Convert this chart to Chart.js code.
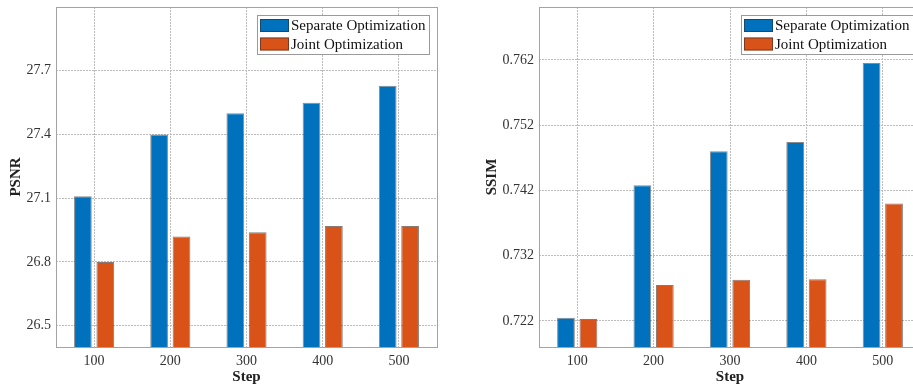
<!DOCTYPE html>
<html>
<head>
<meta charset="utf-8">
<script src="https://cdn.jsdelivr.net/npm/chart.js@4.4.1/dist/chart.umd.min.js"></script>
<style>
  html, body { margin: 0; padding: 0; background: #fff; }
  #wrap { position: relative; width: 913px; height: 386px; overflow: hidden; background: #fff; }
  #psnrCanvas { position: absolute; left: 0; top: 0; }
  #ssimCanvas { position: absolute; left: 460px; top: 0; }
</style>
</head>
<body>
<div id="wrap">
  <canvas id="psnrCanvas" width="460" height="386"></canvas>
  <canvas id="ssimCanvas" width="484" height="386"></canvas>
</div>
<script>
// Training steps on the x axis
const steps = ['100', '200', '300', '400', '500'];
const seriesNames = ['Separate Optimization', 'Joint Optimization'];

// PSNR per step
const psnrSeparate = [27.11, 27.40, 27.50, 27.55, 27.63];
const psnrJoint = [26.80, 26.92, 26.94, 26.97, 26.97];
const psnrTicks = [26.5, 26.8, 27.1, 27.4, 27.7];

// SSIM per step
const ssimSeparate = [0.7225, 0.7428, 0.7480, 0.7494, 0.7615];
const ssimJoint = [0.7223, 0.7275, 0.7283, 0.7284, 0.7400];
const ssimTicks = [0.722, 0.732, 0.742, 0.752, 0.762];

const BLUE = '#0072BD';
const ORANGE = '#D95319';
const SERIF = "'Liberation Serif', 'Times New Roman', serif";

Chart.defaults.font.family = SERIF;
Chart.defaults.color = '#333';

// Boxed frame around the plot area plus a boxed legend in its top-right corner
const frameAndLegend = {
  id: 'frameAndLegend',
  afterDatasetsDraw(chart) {
    const { ctx, chartArea: a } = chart;
    ctx.save();
    ctx.strokeStyle = '#a3a3a3';
    ctx.lineWidth = 1;
    ctx.strokeRect(Math.round(a.left) + 0.5, Math.round(a.top) + 0.5,
                   Math.round(a.right - a.left), Math.round(a.bottom - a.top));

    ctx.font = '15px ' + SERIF;
    const sets = chart.data.datasets;
    let textW = 0;
    sets.forEach(d => { textW = Math.max(textW, ctx.measureText(d.label).width); });
    const swW = 29, swH = 13, padL = 3, gap = 2, padR = 3, rowH = 18.5;
    const boxW = Math.round(padL + swW + gap + textW + padR);
    const boxH = 39;
    const bx = Math.round(a.right - 8 - boxW);
    const by = Math.round(a.top + 8);
    ctx.fillStyle = '#fff';
    ctx.fillRect(bx, by, boxW, boxH);
    ctx.strokeStyle = '#9a9a9a';
    ctx.strokeRect(bx + 0.5, by + 0.5, boxW, boxH);
    sets.forEach((d, i) => {
      const cy = by + 10.5 + i * rowH;
      ctx.fillStyle = d.backgroundColor;
      ctx.fillRect(bx + padL, cy - swH / 2, swW, swH);
      ctx.strokeStyle = 'rgba(40,40,40,0.55)';
      ctx.strokeRect(bx + padL + 0.5, cy - swH / 2 + 0.5, swW - 1, swH - 1);
      ctx.fillStyle = '#111';
      ctx.textBaseline = 'middle';
      ctx.textAlign = 'left';
      ctx.fillText(d.label, bx + padL + swW + gap, cy + 1);
    });
    ctx.restore();
  }
};

function makeChart(canvasId, yTitle, sepVals, jointVals, tickVals, yMin, yMax, decimals, yAxisWidth, titlePad) {
  return new Chart(document.getElementById(canvasId), {
    type: 'bar',
    data: {
      labels: steps,
      datasets: [
        { label: seriesNames[0], data: sepVals, backgroundColor: BLUE,
          borderColor: 'rgba(40,40,40,0.55)', borderWidth: 1 },
        { label: seriesNames[1], data: jointVals, backgroundColor: ORANGE,
          borderColor: 'rgba(60,30,20,0.6)', borderWidth: 1 }
      ]
    },
    options: {
      responsive: false,
      animation: false,
      devicePixelRatio: 1,
      layout: { padding: { top: 7, right: 23, bottom: 0, left: 0 } },
      datasets: { bar: { categoryPercentage: 0.588, barPercentage: 0.79 } },
      plugins: { legend: { display: false }, tooltip: { enabled: false } },
      scales: {
        x: {
          grid: { offset: false, color: '#bcbcbc', drawTicks: false, lineWidth: 1 },
          border: { display: false, dash: [2, 1] },
          ticks: { padding: 6, font: { size: 14 }, color: '#333' },
          title: { display: true, text: 'Step', font: { size: 15, weight: 'bold' },
                   color: '#222', padding: { top: 0, bottom: 0 } },
          afterFit(scale) {
            scale.height = 39;
            scale.paddingLeft = 0;
            scale.paddingRight = 0;
          }
        },
        y: {
          min: yMin,
          max: yMax,
          grid: { color: '#bcbcbc', drawTicks: false, lineWidth: 1 },
          border: { display: false, dash: [2, 1] },
          afterBuildTicks(scale) { scale.ticks = tickVals.map(v => ({ value: v })); },
          ticks: {
            padding: 5,
            font: { size: 14 },
            color: '#333',
            callback: v => Number(v).toFixed(decimals)
          },
          title: { display: true, text: yTitle, font: { size: 15, weight: 'bold' },
                   color: '#222', padding: { top: titlePad, bottom: 0 } },
          afterFit(scale) {
            scale.width = yAxisWidth;
            scale.paddingTop = 0;
            scale.paddingBottom = 0;
          }
        }
      }
    },
    plugins: [frameAndLegend]
  });
}

makeChart('psnrCanvas', 'PSNR', psnrSeparate, psnrJoint, psnrTicks, 26.4, 28.0, 1, 56, 7);
makeChart('ssimCanvas', 'SSIM', ssimSeparate, ssimJoint, ssimTicks, 0.718, 0.7701, 3, 79, 22.7);
</script>
</body>
</html>
